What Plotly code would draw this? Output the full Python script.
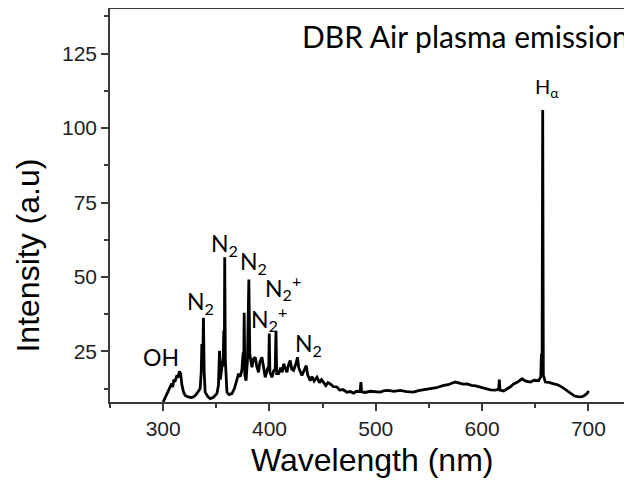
import plotly.graph_objects as go

# Emission spectrum (wavelength in nm, intensity in a.u.)
wavelength = [
    300.0, 302, 304, 306, 308, 309, 310, 311, 312, 313, 314, 315.3, 316.5, 317.5, 319, 320.7,
    323, 326, 328.5, 331, 333, 334.8, 335.8, 336.4, 337.1, 337.9, 338.6, 339.5, 342, 344.2,
    347, 349, 350.5, 352, 353.0, 353.8, 355.2, 356.5, 357.0, 357.5, 357.9, 358.5, 360, 362,
    364.7, 367, 369, 370.9, 372.5, 374, 375.3, 375.8, 376.2, 376.8, 378, 379.3, 380.6, 381.5,
    383.5, 385, 386.6, 388, 389.7, 391, 392.9, 394.5, 396, 398, 399.3, 399.8, 400.4, 402.3,
    404, 405.4, 406.1, 406.8, 408.6, 410.5, 412, 413.3, 415, 416.4, 418, 419.5, 421, 422.7,
    424.5, 426.4, 427.5, 429, 430.5, 432.5, 434.6, 436, 438.4, 440, 442, 444.7, 447, 449,
    450.9, 453, 455, 457.2, 460, 463.5, 466, 469, 472.9, 476, 479, 482, 485.3, 486, 486.7,
    490, 494.8, 500, 504, 508, 512, 517, 523, 529, 535.6, 540, 545, 551.3, 557, 563.9, 568,
    571, 574.8, 578, 582, 585.8, 590, 594, 598.4, 603, 607.8, 612, 615.6, 616.2, 616.8, 620.3,
    624, 627, 629.7, 633, 637.6, 641, 645.4, 649, 653.2, 655.2, 655.8, 656.4, 657.0, 657.6,
    659.5, 663, 667.3, 671, 675.2, 679, 683, 687, 690.9, 694, 696.2, 698.5, 700.3,
]
intensity = [
    8.0, 9.5, 11.5, 13.0, 14.2, 13.0, 15.5, 14.8, 16.5, 17.0, 16.2, 18.3, 17.5, 14.0, 11.5, 10.2,
    9.8, 9.5, 9.7, 10.5, 11.5, 12.5, 18.0, 27.5, 20.0, 36.3, 18.0, 11.3, 9.8, 9.1,
    9.5, 10.3, 10.8, 13.5, 25.2, 15.5, 18.6, 23.0, 32.0, 20.0, 56.6, 22.0, 11.3, 10.5,
    10.8, 12.5, 15.0, 17.5, 16.5, 18.6, 24.7, 19.0, 38.0, 17.0, 15.2, 22.0, 49.1, 24.0,
    19.7, 22.5, 23.0, 20.0, 18.0, 21.5, 23.0, 19.0, 16.3, 19.0, 20.0, 31.0, 18.0, 16.3,
    18.5, 19.0, 31.9, 17.5, 17.5, 19.5, 18.0, 20.8, 19.0, 18.0, 20.5, 21.9, 19.0, 18.6,
    20.5, 23.0, 19.5, 18.0, 16.9, 18.5, 20.2, 17.0, 15.2, 16.5, 15.0, 16.3, 14.5, 15.5,
    14.7, 13.5, 14.5, 14.1, 13.2, 13.0, 12.0, 12.2, 11.3, 11.5, 11.0, 11.6, 11.5, 14.7, 11.4,
    11.2, 11.6, 11.4, 11.3, 11.8, 11.9, 11.6, 11.9, 11.5, 11.3, 11.8, 12.2, 12.5, 12.8, 13.6, 13.8,
    14.2, 14.7, 14.4, 14.0, 14.1, 13.6, 13.4, 13.0, 12.6, 12.1, 12.0, 12.2, 15.5, 12.0, 11.7,
    12.5, 13.2, 14.1, 14.6, 15.8, 15.0, 14.7, 15.3, 15.2, 16.5, 24.2, 17.0, 106.1, 17.0,
    14.7, 14.6, 14.1, 13.8, 13.0, 12.0, 10.8, 10.0, 9.7, 9.8, 10.2, 10.8, 11.7,
]

# Peak labels
label_text = ["OH", "N<sub>2</sub>", "N<sub>2</sub>", "N<sub>2</sub>",
              "N<sub>2</sub><sup>+</sup>", "N<sub>2</sub><sup>+</sup>", "N<sub>2</sub>"]
label_x = [298.0, 334.9, 357.9, 385.3, 412.3, 400.0, 436.9]
label_y = [23.2, 41.5, 60.9, 54.8, 46.6, 36.0, 27.4]

x_ticks = [300, 400, 500, 600, 700]
y_ticks = [25, 50, 75, 100, 125]

fig = go.Figure()
fig.add_trace(go.Scatter(x=wavelength, y=intensity, mode="lines",
                         line=dict(color="black", width=2.8), showlegend=False))

ann_font = dict(family="Lato, Noto Sans, sans-serif", size=23, color="black")
for t, xx, yy in zip(label_text, label_x, label_y):
    fig.add_annotation(x=xx, y=yy, text=t, showarrow=False, font=ann_font,
                       xanchor="center", yanchor="middle")

fig.add_annotation(x=661.2, y=113.5, text="H<sub>α</sub>", showarrow=False,
                   font=dict(family="Lato, Noto Sans, sans-serif", size=20, color="black"),
                   xanchor="center", yanchor="middle")
fig.add_annotation(x=584.2, y=130.8, text="DBR Air plasma emission", showarrow=False,
                   font=dict(family="Lato, Noto Sans, sans-serif", size=30, color="black"),
                   xanchor="center", yanchor="middle")

# Axis titles
fig.add_annotation(xref="paper", yref="paper", x=0.502, y=-0.1476, text="Wavelength (nm)",
                   showarrow=False, font=dict(family="Liberation Sans, Arial", size=32, color="black"),
                   xanchor="center", yanchor="middle")
fig.add_annotation(xref="paper", x=-0.158, yref="paper", y=0.3715, text="Intensity (a.u)",
                   showarrow=False, textangle=-90,
                   font=dict(family="Liberation Sans, Arial", size=32, color="black"),
                   xanchor="center", yanchor="middle")

axis_common = dict(showgrid=False, zeroline=False, showline=True, linecolor="#3a3a3a",
                   linewidth=1.5, ticks="outside", ticklen=7, tickwidth=1.5, tickcolor="#3a3a3a",
                   tickfont=dict(family="Liberation Sans, Arial", size=21, color="#222"))

fig.update_xaxes(range=[250, 741], tickvals=x_ticks, mirror=True,
                 minor=dict(ticks="outside", ticklen=4, tickwidth=1.5, tickcolor="#3a3a3a",
                            dtick=50, tick0=250),
                 **axis_common)
fig.update_yaxes(range=[8, 140], tickvals=y_ticks,
                 minor=dict(ticks="outside", ticklen=4, tickwidth=1.5, tickcolor="#3a3a3a",
                            dtick=12.5, tick0=0),
                 **axis_common)

# The page body adds an 8px offset, so the figure is 8px smaller than the window
fig.update_layout(width=624, height=473, margin=dict(l=102, r=0, t=1, b=79),
                  plot_bgcolor="white", paper_bgcolor="white")

fig.write_html("out.html")
